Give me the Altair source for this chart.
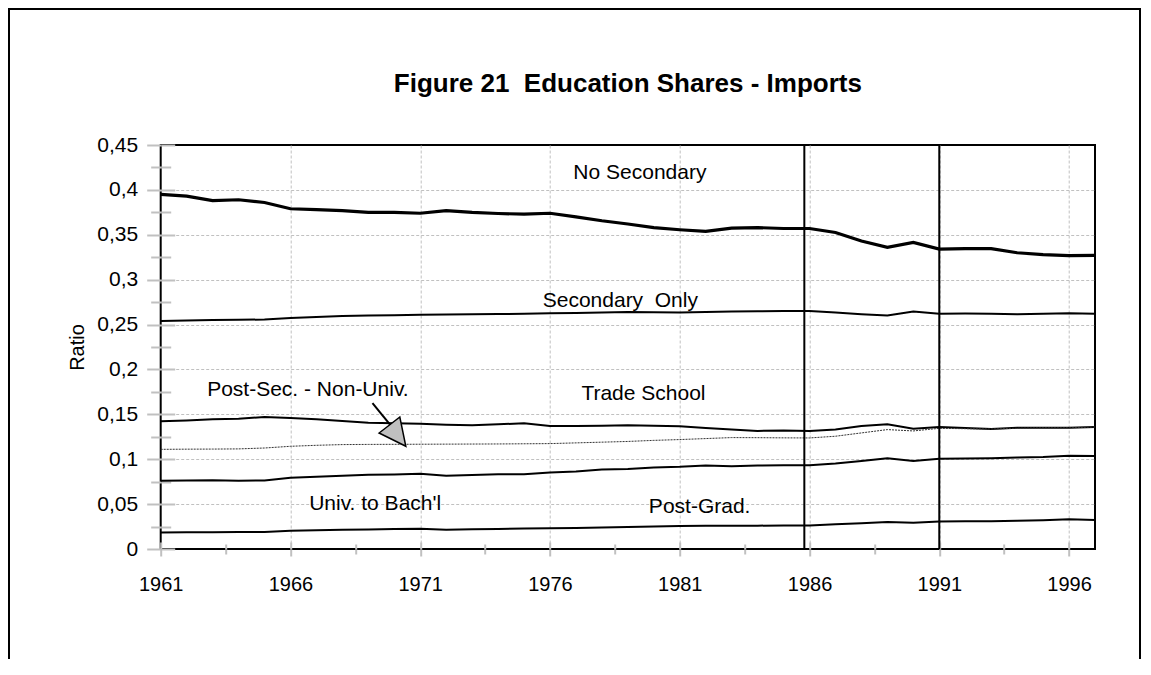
import altair as alt
import pandas as pd

FONT = "Liberation Sans"
GRAY = "#c0c0c0"

years = list(range(1961, 1998))

no_secondary = [0.395, 0.393, 0.388, 0.389, 0.386, 0.379, 0.378, 0.377, 0.375, 0.375,
                0.374, 0.377, 0.375, 0.3737, 0.373, 0.374, 0.370, 0.3656, 0.362, 0.358,
                0.3556, 0.3537, 0.3574, 0.358, 0.357, 0.357, 0.3526, 0.343, 0.336, 0.3415,
                0.334, 0.3346, 0.3346, 0.330, 0.328, 0.3267, 0.327]
secondary_only = [0.254, 0.2545, 0.255, 0.2553, 0.2556, 0.2574, 0.2585, 0.2596, 0.260, 0.2605,
                  0.261, 0.2612, 0.2615, 0.2618, 0.262, 0.2626, 0.263, 0.2635, 0.264, 0.2638,
                  0.2633, 0.264, 0.2645, 0.2648, 0.265, 0.2652, 0.2633, 0.2615, 0.260, 0.2644,
                  0.262, 0.2622, 0.262, 0.2615, 0.262, 0.2626, 0.262]
trade_school = [0.1422, 0.1432, 0.1444, 0.1452, 0.147, 0.146, 0.1444, 0.1426, 0.1407, 0.140,
                0.1396, 0.1385, 0.1378, 0.1389, 0.140, 0.137, 0.137, 0.1374, 0.1378, 0.1374,
                0.1367, 0.1348, 0.133, 0.1315, 0.132, 0.1315, 0.133, 0.137, 0.1389, 0.134,
                0.1359, 0.1348, 0.1337, 0.135, 0.135, 0.135, 0.1359]
post_sec_non_univ = [0.111, 0.1112, 0.1113, 0.1115, 0.1125, 0.1144, 0.1155, 0.1163, 0.1165, 0.1166,
                     0.1167, 0.1168, 0.1169, 0.117, 0.1172, 0.1174, 0.1182, 0.119, 0.1198, 0.121,
                     0.1219, 0.123, 0.1241, 0.124, 0.1238, 0.1237, 0.1256, 0.1293, 0.133, 0.1315,
                     0.1344, 0.134, 0.1337, 0.1345, 0.135, 0.135, 0.1359]
univ_to_bach = [0.0759, 0.0763, 0.0767, 0.076, 0.0763, 0.0793, 0.0805, 0.0815, 0.0826, 0.083,
                0.0837, 0.0815, 0.0825, 0.0833, 0.0833, 0.0852, 0.0863, 0.0885, 0.089, 0.0907,
                0.0915, 0.093, 0.0922, 0.093, 0.0932, 0.0933, 0.0952, 0.098, 0.101, 0.098,
                0.1004, 0.1007, 0.101, 0.1019, 0.1025, 0.104, 0.1037]
post_grad = [0.0185, 0.0186, 0.0187, 0.0188, 0.0189, 0.0204, 0.021, 0.0215, 0.0218, 0.0222,
             0.0226, 0.0215, 0.022, 0.0224, 0.0227, 0.023, 0.0235, 0.024, 0.0244, 0.025,
             0.0256, 0.0258, 0.026, 0.026, 0.0262, 0.0263, 0.0275, 0.0288, 0.030, 0.0293,
             0.0307, 0.031, 0.031, 0.0315, 0.032, 0.033, 0.0322]

label_text = ["No Secondary", "Secondary\u00a0 Only", "Trade School",
              "Post-Sec. - Non-Univ.", "Univ. to Bach'l", "Post-Grad."]
label_x = [1976.9, 1975.72, 1977.21, 1962.79, 1966.72, 1979.81]
label_y = [0.4192, 0.2759, 0.1722, 0.1774, 0.05, 0.0463]

period_lines = [1985.8, 1991]

arrow_x = [1969.16, 1970.05]
arrow_y = [0.1626, 0.131]
arrow_tip_x = [1970.445]
arrow_tip_y = [0.1144]

x_major = [1961, 1966, 1971, 1976, 1981, 1986, 1991, 1996]
x_minor = [1963.5, 1968.5, 1973.5, 1978.5, 1983.5, 1988.5, 1993.5]
x_grid = [1966, 1971, 1976, 1981, 1986, 1991, 1996]
y_major = [0, 0.05, 0.1, 0.15, 0.2, 0.25, 0.3, 0.35, 0.4, 0.45]
y_minor = [0.025, 0.075, 0.125, 0.175, 0.225, 0.275, 0.325, 0.375, 0.425]
y_grid = [0.05, 0.1, 0.15, 0.2, 0.25, 0.3, 0.35, 0.4]

W, H = 934.3, 404

main_df = pd.DataFrame({"year": years * 4,
                        "value": secondary_only + trade_school + univ_to_bach + post_grad,
                        "series": (["Secondary Only"] * 37 + ["Trade School"] * 37 +
                                   ["Univ. to Bach'l"] * 37 + ["Post-Grad."] * 37)})
thick_df = pd.DataFrame({"year": years, "value": no_secondary})
dot_df = pd.DataFrame({"year": years, "value": post_sec_non_univ})
lab_df = pd.DataFrame({"year": label_x, "value": label_y, "text": label_text})
rule_df = pd.DataFrame({"year": period_lines})
arrow_df = pd.DataFrame({"year": arrow_x, "value": arrow_y})
tip_df = pd.DataFrame({"year": arrow_tip_x, "value": arrow_tip_y})

xs = alt.Scale(domain=[1961, 1997], nice=False, zero=False)
ys = alt.Scale(domain=[0, 0.45], nice=False, zero=True)


def tick_axis(orient, values, size, offset=0, labels=False, **kw):
    return alt.Axis(orient=orient, values=values, tickSize=size, offset=offset,
                    tickColor=GRAY, tickWidth=2, domain=False, grid=False,
                    labels=labels, title=None, **kw)


main_x = alt.Axis(orient="bottom", values=x_major, format="d", tickSize=7, tickColor=GRAY,
                  tickWidth=2, domain=False, grid=False, labelFont=FONT, labelFontSize=20,
                  labelColor="black", labelPadding=18, labelFlush=False, title=None)
main_y = alt.Axis(orient="left", values=y_major, tickSize=14, tickColor=GRAY, tickWidth=2,
                  domain=False, grid=False, labelFont=FONT, labelFontSize=21,
                  labelColor="black", labelPadding=9, labelFlush=False,
                  labelExpr="replace(format(datum.value, '.2~f'), '.', ',')",
                  title="Ratio", titleFont=FONT, titleFontSize=20, titleFontWeight="normal",
                  titleColor="black", titlePadding=9)

grid_x = alt.Axis(orient="bottom", values=x_grid, grid=True, gridColor=GRAY, gridDash=[3, 2],
                  gridWidth=1, ticks=False, labels=False, domain=False, title=None)
grid_y = alt.Axis(orient="left", values=y_grid, grid=True, gridColor=GRAY, gridDash=[3, 2],
                  gridWidth=1, ticks=False, labels=False, domain=False, title=None)

lines = alt.Chart(main_df).mark_line(color="black", strokeWidth=2).encode(
    x=alt.X("year:Q", scale=xs, axis=main_x),
    y=alt.Y("value:Q", scale=ys, axis=main_y),
    detail="series:N")

thick = alt.Chart(thick_df).mark_line(color="black", strokeWidth=3.2).encode(
    x=alt.X("year:Q", scale=xs, axis=grid_x),
    y=alt.Y("value:Q", scale=ys, axis=grid_y))

dotted = alt.Chart(dot_df).mark_line(color="#333333", strokeWidth=1, strokeDash=[2, 1]).encode(
    x=alt.X("year:Q", scale=xs, axis=tick_axis("bottom", x_major, 7, -7)),
    y=alt.Y("value:Q", scale=ys, axis=tick_axis("left", y_major, 14, -14)))

labels = alt.Chart(lab_df).mark_text(align="left", baseline="middle", font=FONT,
                                     fontSize=21, color="black").encode(
    x=alt.X("year:Q", scale=xs, axis=tick_axis("bottom", x_minor, 5)),
    y=alt.Y("value:Q", scale=ys, axis=tick_axis("left", y_minor, 10)),
    text="text:N")

shaft = alt.Chart(arrow_df).mark_line(color="black", strokeWidth=2).encode(
    x=alt.X("year:Q", scale=xs, axis=tick_axis("bottom", x_minor, 5, -5)),
    y=alt.Y("value:Q", scale=ys, axis=tick_axis("left", y_minor, 10, -10)))

head = alt.Chart(tip_df).mark_point(
    shape="M0,0L-0.89,-0.443L-0.2,-0.977Z", size=3600, filled=True,
    fill="#c0c0c0", stroke="black", strokeWidth=1.5, opacity=1, fillOpacity=1).encode(
    x=alt.X("year:Q", scale=xs, axis=None),
    y=alt.Y("value:Q", scale=ys, axis=None))

rules = alt.Chart(rule_df).mark_rule(color="black", strokeWidth=2).encode(
    x=alt.X("year:Q", scale=xs, axis=None))

frame = alt.Chart(pd.DataFrame({"a": [0]})).mark_rect(
    filled=False, stroke="black", strokeWidth=2).encode(
    x=alt.value(-151.7), x2=alt.value(979.3), y=alt.value(-136), y2=alt.value(560))

chart = alt.layer(frame, lines, thick, dotted, labels, shaft, head, rules).resolve_axis(
    x="independent", y="independent").resolve_scale(x="shared", y="shared").properties(
    width=W, height=H,
    title=alt.TitleParams("Figure 21\u00a0 Education Shares - Imports", font=FONT, fontSize=26,
                          fontWeight="bold", color="black", anchor="middle", frame="group",
                          baseline="alphabetic", offset=-110),
    autosize=alt.AutoSizeParams(type="none"),
    padding={"left": 152.7, "top": 137, "right": 46, "bottom": 110},
).configure_view(stroke="black", strokeWidth=2)

chart.save("out.html", embed_options={"renderer": "svg", "actions": False})
